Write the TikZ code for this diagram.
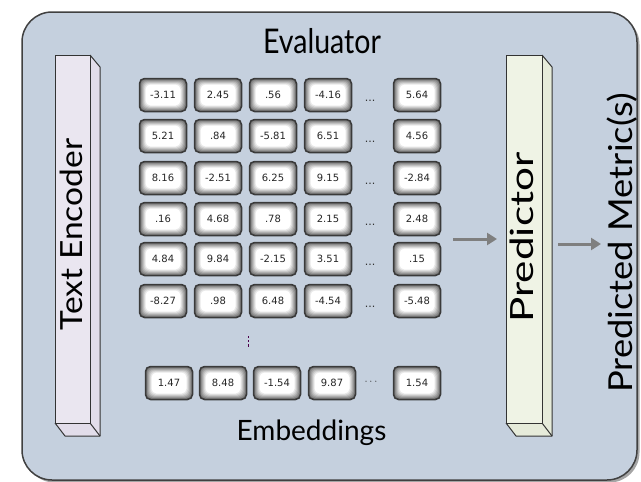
\documentclass[tikz,border=0pt]{standalone}
\usepackage{fontspec}
\setmainfont{Lato}
\newfontfamily\numfont{DejaVu Sans}
\usetikzlibrary{shadows,arrows.meta}
\definecolor{bgblue}{HTML}{C5D0DE}
\definecolor{encfill}{HTML}{EAE6F0}
\definecolor{encside}{HTML}{E2DDEA}
\definecolor{prdfill}{HTML}{EFF3E5}
\definecolor{prdside}{HTML}{E6EBDA}
\definecolor{arrowgray}{HTML}{7F7F7F}
\definecolor{boxedge}{HTML}{3A3A3A}
\begin{document}
\begin{tikzpicture}[x=1pt,y=-1pt,
  cell/.style={draw=boxedge, line width=1.5pt, rounded corners=5pt,
    minimum width=47pt, minimum height=33pt, inner sep=0pt,
    fill=black!58, text=black!85,
    font=\numfont\fontsize{10}{11}\selectfont,
    path picture={
      \foreach \i/\c in {1/48,2/38,3/28,4/18,5/9,6/0}{
        \fill[black!\c, rounded corners=5pt]
          ([shift={(\i pt,-\i pt)}]path picture bounding box.north west) rectangle
          ([shift={(-\i pt,\i pt)}]path picture bounding box.south east);
      }
    }},
  hdots/.style={font=\numfont\fontsize{11}{12}\selectfont, text=black!80, anchor=base},
  flow/.style={draw=arrowgray, line width=3pt, -{Triangle[length=10pt,width=12pt]}},
  face/.style={draw=black!80, line width=1pt, line join=round}
]
\useasboundingbox (0,0) rectangle (641,482);
% outer container
\draw[draw=black!75, line width=1.5pt, fill=bgblue, rounded corners=30pt,
  drop shadow={shadow xshift=2.5pt, shadow yshift=-2.5pt, fill=black!70}]
  (22,12) rectangle (637,480);
\node[anchor=base, font=\fontsize{34}{36}\selectfont] (title) at (322,53)
  {\scalebox{0.84}[1]{Evaluator}};

% Text encoder bar
\fill[encside] (90,55) -- (100,67) -- (100,436) -- (90,423) -- cycle;
\fill[encside] (55,423) -- (90,423) -- (100,436) -- (65,436) -- cycle;
\draw[face] (90,55) -- (100,67) -- (100,436) -- (65,436) -- (55,423);
\draw[face] (90,423) -- (100,436);
\draw[face, fill=encfill] (55,55) rectangle (90,423);
\node[anchor=base, rotate=90, font=\fontsize{30.5}{32}\selectfont] (enc) at (82,234.5)
  {\scalebox{1.1}[1]{Text Encoder}};

% Predictor bar
\fill[prdside] (542,55) -- (552,67) -- (552,436) -- (542,423) -- cycle;
\fill[prdside] (506,423) -- (542,423) -- (552,436) -- (516,436) -- cycle;
\draw[face] (542,55) -- (552,67) -- (552,436) -- (516,436) -- (506,423);
\draw[face] (542,423) -- (552,436);
\draw[face, fill=prdfill] (506,55) rectangle (542,423);
\node[anchor=base, rotate=90, font=\fontsize{32}{34}\selectfont] (pred) at (533,237.5)
  {\scalebox{1.32}[1]{Predictor}};
\coordinate (predin) at (497,239);
\coordinate (predout) at (558,244);

% Output label
\node[anchor=base, rotate=90, font=\fontsize{33}{35}\selectfont] (metric) at (632,243)
  {\scalebox{1.1}[1]{Predicted Metric(s)}};
\coordinate (metricin) at (601,244);

% embeddings matrix
\foreach \r/\y/\a/\b/\c/\d/\e in {
  1/95/-3.11/2.45/.56/-4.16/5.64,
  2/136/5.21/.84/-5.81/6.51/4.56,
  3/178/8.16/-2.51/6.25/9.15/-2.84,
  4/219/.16/4.68/.78/2.15/2.48,
  5/259/4.84/9.84/-2.15/3.51/.15,
  6/301/-8.27/.98/6.48/-4.54/-5.48}{
  \node[cell] (c\r-1) at (163,\y) {\a};
  \node[cell] (c\r-2) at (218,\y) {\b};
  \node[cell] (c\r-3) at (273,\y) {\c};
  \node[cell] (c\r-4) at (328,\y) {\d};
  \node[hdots] (d\r) at (370,\y+6) {...};
  \node[cell] (c\r-5) at (417,\y) {\e};
}
\coordinate (vdtop) at (248,336);
\coordinate (vdbot) at (248,348);
\draw[violet!60!black, line width=0.9pt, dash pattern=on 2.2pt off 2pt] (vdtop) -- (vdbot);
\node[cell] (e1) at (169,383) {1.47};
\node[cell] (e2) at (223,383) {8.48};
\node[cell] (e3) at (277,383) {-1.54};
\node[cell] (e4) at (332,383) {9.87};
\node[hdots] (ed) at (371,384) {$\cdots$};
\node[cell] (e5) at (417,383) {1.54};
\node[anchor=base, font=\fontsize{28}{30}\selectfont] (emb) at (311.5,440) {Embeddings};
\coordinate (embout) at (453,239);

\draw[flow] (embout) -- (predin);
\draw[flow] (predout) -- (metricin);
\end{tikzpicture}
\end{document}
